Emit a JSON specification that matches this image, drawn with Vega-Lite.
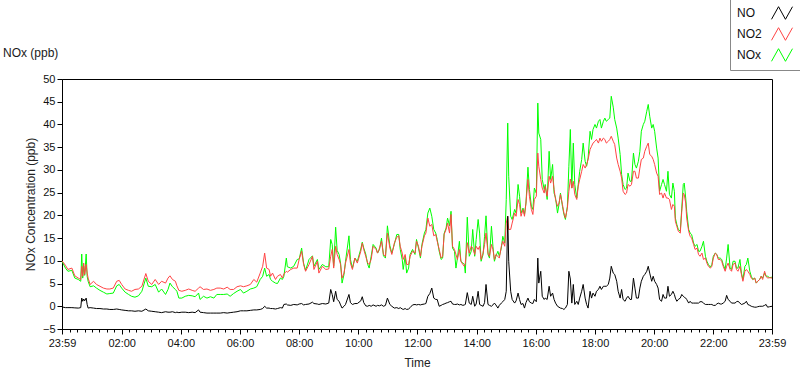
{
"$schema": "https://vega.github.io/schema/vega-lite/v6.json",
"width": 710, "height": 250,
"autosize": {"type": "none"},
"padding": {"left": 62, "top": 79, "right": 28, "bottom": 40},
"background": "white",
"title": {"text": "NOx (ppb)", "anchor": "start", "frame": "group", "dx": -59, "dy": 76, "offset": 12, "fontSize": 12, "fontWeight": "normal", "font": "Liberation Sans", "color": "#1a1a1a"},
"config": {"view": {"stroke": "black", "strokeWidth": 1}, "font": "Liberation Sans",
  "axis": {"labelFont": "Liberation Sans", "titleFont": "Liberation Sans", "labelColor": "#111", "titleColor": "#222", "domainColor": "black", "tickColor": "black", "grid": false, "labelFontSize": 11, "titleFontSize": 12, "titleFontWeight": "normal"}},
"data": {"values": [
{"t":0,"NO":-0.15,"NO2":10.0,"NOx":9.9},{"t":7,"NO":-0.3,"NO2":9.0,"NOx":8.4},{"t":12,"NO":-0.3,"NO2":8.1,"NOx":7.7},{"t":20,"NO":-0.3,"NO2":8.4,"NOx":7.9},{"t":26,"NO":-0.35,"NO2":6.7,"NOx":6.2},{"t":33,"NO":-0.4,"NO2":6.2,"NOx":5.9},{"t":38,"NO":-0.3,"NO2":5.9,"NOx":5.5},{"t":40,"NO":1.8,"NO2":8.8,"NOx":11.5},{"t":42,"NO":1.1,"NO2":6.6,"NOx":6.2},{"t":44,"NO":1.6,"NO2":9.5,"NOx":8.8},{"t":46,"NO":1.2,"NO2":7.0,"NOx":6.8},{"t":49,"NO":1.8,"NO2":9.2,"NOx":11.5},{"t":51,"NO":0.4,"NO2":7.3,"NOx":6.6},{"t":53,"NO":-0.4,"NO2":6.2,"NOx":5.5},{"t":57,"NO":-0.3,"NO2":4.8,"NOx":4.3},{"t":64,"NO":-0.4,"NO2":5.5,"NOx":4.5},{"t":70,"NO":-0.5,"NO2":4.8,"NOx":4.0},{"t":77,"NO":-0.5,"NO2":4.4,"NOx":3.5},{"t":84,"NO":-0.6,"NO2":4.0,"NOx":3.1},{"t":91,"NO":-0.6,"NO2":3.8,"NOx":2.7},{"t":97,"NO":-0.7,"NO2":3.8,"NOx":2.8},{"t":104,"NO":-0.7,"NO2":4.0,"NOx":2.9},{"t":111,"NO":-0.6,"NO2":5.5,"NOx":4.5},{"t":116,"NO":-0.7,"NO2":5.7,"NOx":4.8},{"t":121,"NO":-0.8,"NO2":4.8,"NOx":4.0},{"t":128,"NO":-0.9,"NO2":3.8,"NOx":3.1},{"t":135,"NO":-1.0,"NO2":3.5,"NOx":2.6},{"t":141,"NO":-1.0,"NO2":3.3,"NOx":2.2},{"t":148,"NO":-1.1,"NO2":3.7,"NOx":2.0},{"t":155,"NO":-1.0,"NO2":3.8,"NOx":2.3},{"t":162,"NO":-1.1,"NO2":4.4,"NOx":3.3},{"t":170,"NO":-0.6,"NO2":7.2,"NOx":6.2},{"t":175,"NO":-1.0,"NO2":5.5,"NOx":4.4},{"t":182,"NO":-1.1,"NO2":4.8,"NOx":4.3},{"t":189,"NO":-1.2,"NO2":5.9,"NOx":4.8},{"t":196,"NO":-1.3,"NO2":4.8,"NOx":3.1},{"t":202,"NO":-1.4,"NO2":5.5,"NOx":3.8},{"t":210,"NO":-1.2,"NO2":5.1,"NOx":2.6},{"t":215,"NO":-1.3,"NO2":6.2,"NOx":3.7},{"t":219,"NO":-1.3,"NO2":6.7,"NOx":5.1},{"t":224,"NO":-1.2,"NO2":5.9,"NOx":4.3},{"t":230,"NO":-1.4,"NO2":5.5,"NOx":3.7},{"t":233,"NO":-1.3,"NO2":4.5,"NOx":3.3},{"t":237,"NO":-1.4,"NO2":3.5,"NOx":1.8},{"t":243,"NO":-1.3,"NO2":3.3,"NOx":1.8},{"t":250,"NO":-1.3,"NO2":3.5,"NOx":2.2},{"t":257,"NO":-1.4,"NO2":3.8,"NOx":2.4},{"t":264,"NO":-1.3,"NO2":3.5,"NOx":2.3},{"t":270,"NO":-1.4,"NO2":3.3,"NOx":2.1},{"t":277,"NO":-0.8,"NO2":4.0,"NOx":2.9},{"t":280,"NO":-1.3,"NO2":4.3,"NOx":1.5},{"t":287,"NO":-1.4,"NO2":3.7,"NOx":2.2},{"t":294,"NO":-1.5,"NO2":3.8,"NOx":1.8},{"t":301,"NO":-1.5,"NO2":3.5,"NOx":2.1},{"t":308,"NO":-1.5,"NO2":3.7,"NOx":1.8},{"t":314,"NO":-1.5,"NO2":4.0,"NOx":2.6},{"t":321,"NO":-1.5,"NO2":4.0,"NOx":2.6},{"t":328,"NO":-1.4,"NO2":3.8,"NOx":2.6},{"t":335,"NO":-1.5,"NO2":4.2,"NOx":2.7},{"t":341,"NO":-1.4,"NO2":3.7,"NOx":2.2},{"t":348,"NO":-1.3,"NO2":3.7,"NOx":2.8},{"t":355,"NO":-1.2,"NO2":4.3,"NOx":3.3},{"t":362,"NO":-1.0,"NO2":4.5,"NOx":3.7},{"t":368,"NO":-1.0,"NO2":4.3,"NOx":2.9},{"t":375,"NO":-1.0,"NO2":4.5,"NOx":3.3},{"t":382,"NO":-0.9,"NO2":4.8,"NOx":3.8},{"t":389,"NO":-0.8,"NO2":5.9,"NOx":4.0},{"t":395,"NO":-0.8,"NO2":5.3,"NOx":4.3},{"t":402,"NO":-0.7,"NO2":7.3,"NOx":5.9},{"t":407,"NO":-0.5,"NO2":8.8,"NOx":6.6},{"t":411,"NO":0.0,"NO2":11.7,"NOx":8.4},
{"t":415,"NO":-0.4,"NO2":8.4,"NOx":6.6},{"t":420,"NO":-0.4,"NO2":8.1,"NOx":7.0},{"t":423,"NO":-0.5,"NO2":6.6,"NOx":5.9},{"t":427,"NO":-0.5,"NO2":7.3,"NOx":5.5},{"t":433,"NO":-0.6,"NO2":5.9,"NOx":5.1},{"t":437,"NO":-0.5,"NO2":6.6,"NOx":5.0},{"t":443,"NO":-0.3,"NO2":7.0,"NOx":6.2},{"t":447,"NO":-0.4,"NO2":6.2,"NOx":5.9},{"t":450,"NO":0.4,"NO2":7.1,"NOx":6.6},{"t":455,"NO":0.5,"NO2":7.7,"NOx":10.6},{"t":457,"NO":0.3,"NO2":7.5,"NOx":8.7},{"t":464,"NO":0.2,"NO2":8.1,"NOx":8.4},{"t":470,"NO":0.4,"NO2":8.4,"NOx":8.8},{"t":477,"NO":0.3,"NO2":8.4,"NOx":10.3},{"t":481,"NO":0.5,"NO2":10.3,"NOx":10.4},{"t":486,"NO":0.6,"NO2":12.1,"NOx":12.8},{"t":490,"NO":0.3,"NO2":9.2,"NOx":9.5},{"t":494,"NO":0.4,"NO2":7.7,"NOx":7.9},{"t":501,"NO":0.5,"NO2":9.2,"NOx":10.3},{"t":508,"NO":0.9,"NO2":11.0,"NOx":11.1},{"t":511,"NO":0.6,"NO2":8.1,"NOx":8.8},{"t":518,"NO":0.5,"NO2":9.9,"NOx":10.3},{"t":521,"NO":0.4,"NO2":7.3,"NOx":8.1},{"t":528,"NO":0.6,"NO2":8.8,"NOx":9.2},{"t":535,"NO":0.5,"NO2":8.1,"NOx":8.7},{"t":541,"NO":0.7,"NO2":8.2,"NOx":8.7},{"t":545,"NO":3.7,"NO2":11.0,"NOx":14.7},{"t":548,"NO":2.6,"NO2":12.5,"NOx":13.6},{"t":551,"NO":1.0,"NO2":8.4,"NOx":8.8},{"t":555,"NO":3.3,"NO2":13.2,"NOx":17.4},{"t":558,"NO":1.5,"NO2":11.4,"NOx":12.3},{"t":562,"NO":1.1,"NO2":10.3,"NOx":11.4},{"t":565,"NO":0.3,"NO2":9.2,"NOx":9.5},{"t":568,"NO":-0.4,"NO2":6.2,"NOx":5.1},{"t":572,"NO":0.0,"NO2":7.3,"NOx":7.0},{"t":575,"NO":0.4,"NO2":9.5,"NOx":9.9},{"t":582,"NO":2.6,"NO2":12.5,"NOx":15.5},{"t":585,"NO":0.8,"NO2":9.5,"NOx":10.3},{"t":589,"NO":0.4,"NO2":8.1,"NOx":8.4},{"t":594,"NO":0.6,"NO2":10.6,"NOx":10.6},{"t":599,"NO":0.6,"NO2":9.5,"NOx":9.9},{"t":606,"NO":1.2,"NO2":12.1,"NOx":12.6},{"t":609,"NO":2.1,"NO2":13.9,"NOx":14.1},{"t":612,"NO":0.8,"NO2":12.5,"NOx":12.8},{"t":616,"NO":0.1,"NO2":11.0,"NOx":11.5},
{"t":620,"NO":0.0,"NO2":9.5,"NOx":9.2},{"t":623,"NO":0.2,"NO2":9.2,"NOx":8.4},{"t":627,"NO":0.0,"NO2":10.3,"NOx":11.0},{"t":631,"NO":0.3,"NO2":13.2,"NOx":13.6},{"t":637,"NO":0.0,"NO2":12.5,"NOx":12.8},{"t":640,"NO":0.2,"NO2":11.7,"NOx":11.7},{"t":644,"NO":0.1,"NO2":12.8,"NOx":12.5},{"t":648,"NO":0.3,"NO2":14.3,"NOx":15.0},{"t":652,"NO":0.0,"NO2":11.4,"NOx":11.1},{"t":656,"NO":0.2,"NO2":11.0,"NOx":10.6},{"t":660,"NO":1.8,"NO2":16.1,"NOx":17.7},{"t":665,"NO":0.4,"NO2":12.8,"NOx":13.3},{"t":669,"NO":0.0,"NO2":11.4,"NOx":11.7},{"t":674,"NO":-0.4,"NO2":13.9,"NOx":13.6},{"t":679,"NO":-0.3,"NO2":15.2,"NOx":15.8},{"t":683,"NO":-0.5,"NO2":15.5,"NOx":15.8},{"t":686,"NO":-0.3,"NO2":13.2,"NOx":12.5},{"t":690,"NO":-0.6,"NO2":11.7,"NOx":10.3},{"t":692,"NO":-0.7,"NO2":10.3,"NOx":8.1},{"t":696,"NO":-0.5,"NO2":11.4,"NOx":11.0},{"t":699,"NO":-0.7,"NO2":9.2,"NOx":7.3},{"t":703,"NO":-0.6,"NO2":9.2,"NOx":8.4},{"t":706,"NO":-0.3,"NO2":11.0,"NOx":11.4},{"t":711,"NO":0.3,"NO2":12.1,"NOx":12.5},{"t":716,"NO":0.4,"NO2":11.7,"NOx":11.4},{"t":719,"NO":0.3,"NO2":14.3,"NOx":14.7},{"t":723,"NO":0.4,"NO2":13.2,"NOx":12.8},{"t":727,"NO":0.3,"NO2":11.0,"NOx":10.6},{"t":730,"NO":0.4,"NO2":13.2,"NOx":13.6},{"t":735,"NO":0.5,"NO2":15.5,"NOx":16.1},{"t":738,"NO":0.6,"NO2":16.1,"NOx":16.9},{"t":742,"NO":2.2,"NO2":19.4,"NOx":20.5},{"t":746,"NO":2.8,"NO2":17.6,"NOx":21.6},{"t":750,"NO":4.0,"NO2":18.0,"NOx":19.8},{"t":754,"NO":1.8,"NO2":15.5,"NOx":16.9},{"t":758,"NO":1.5,"NO2":15.8,"NOx":16.1},{"t":761,"NO":1.5,"NO2":14.3,"NOx":14.7},{"t":765,"NO":0.0,"NO2":12.5,"NOx":12.1},{"t":769,"NO":0.2,"NO2":10.6,"NOx":10.3},{"t":772,"NO":0.4,"NO2":11.0,"NOx":10.6},{"t":775,"NO":0.5,"NO2":15.8,"NOx":16.0},{"t":779,"NO":0.7,"NO2":16.9,"NOx":17.2},{"t":782,"NO":0.8,"NO2":18.3,"NOx":19.4},{"t":786,"NO":1.0,"NO2":16.1,"NOx":17.7},{"t":789,"NO":1.1,"NO2":20.2,"NOx":20.9},{"t":792,"NO":0.5,"NO2":13.2,"NOx":12.8},{"t":796,"NO":0.4,"NO2":12.5,"NOx":12.1},{"t":799,"NO":0.4,"NO2":11.4,"NOx":8.4},{"t":802,"NO":0.5,"NO2":10.3,"NOx":10.6},{"t":806,"NO":0.3,"NO2":12.5,"NOx":14.3},{"t":809,"NO":0.4,"NO2":9.9,"NOx":9.9},{"t":813,"NO":0.2,"NO2":9.2,"NOx":9.5},{"t":816,"NO":0.3,"NO2":8.8,"NOx":9.2},{"t":818,"NO":0.4,"NO2":9.5,"NOx":7.3},{"t":822,"NO":3.0,"NO2":14.0,"NOx":19.6},
{"t":826,"NO":0.7,"NO2":11.7,"NOx":11.0},{"t":830,"NO":0.4,"NO2":13.2,"NOx":12.1},{"t":833,"NO":2.2,"NO2":12.8,"NOx":16.9},{"t":837,"NO":0.0,"NO2":11.4,"NOx":11.0},{"t":840,"NO":0.5,"NO2":13.2,"NOx":14.7},{"t":844,"NO":3.3,"NO2":12.5,"NOx":19.1},{"t":847,"NO":0.4,"NO2":13.2,"NOx":16.1},{"t":850,"NO":0.2,"NO2":10.3,"NOx":9.9},{"t":854,"NO":0.0,"NO2":11.7,"NOx":11.4},{"t":857,"NO":0.8,"NO2":13.6,"NOx":15.4},{"t":860,"NO":4.8,"NO2":16.1,"NOx":19.9},{"t":864,"NO":0.4,"NO2":11.7,"NOx":11.4},{"t":867,"NO":0.2,"NO2":11.0,"NOx":10.6},{"t":871,"NO":0.0,"NO2":13.6,"NOx":17.6},{"t":874,"NO":0.3,"NO2":12.5,"NOx":13.2},{"t":877,"NO":0.7,"NO2":10.3,"NOx":9.9},{"t":880,"NO":0.3,"NO2":11.4,"NOx":11.0},{"t":884,"NO":-0.4,"NO2":11.0,"NOx":12.1},{"t":887,"NO":0.2,"NO2":10.6,"NOx":11.0},{"t":891,"NO":0.7,"NO2":13.2,"NOx":12.8},{"t":894,"NO":1.0,"NO2":14.3,"NOx":15.4},{"t":898,"NO":1.5,"NO2":13.2,"NOx":13.9},{"t":901,"NO":3.3,"NO2":18.3,"NOx":23.5},{"t":904,"NO":19.8,"NO2":19.8,"NOx":40.3},{"t":906,"NO":9.9,"NO2":16.9,"NOx":28.6},{"t":910,"NO":3.3,"NO2":16.9,"NOx":19.8},{"t":913,"NO":1.5,"NO2":18.3,"NOx":19.1},{"t":918,"NO":0.7,"NO2":20.5,"NOx":21.3},{"t":921,"NO":1.2,"NO2":19.8,"NOx":20.5},{"t":925,"NO":2.9,"NO2":23.5,"NOx":26.8},{"t":928,"NO":1.5,"NO2":22.4,"NOx":24.2},{"t":931,"NO":0.4,"NO2":19.8,"NOx":20.5},{"t":935,"NO":0.6,"NO2":21.3,"NOx":21.6},{"t":938,"NO":-0.4,"NO2":19.8,"NOx":20.2},{"t":941,"NO":0.8,"NO2":22.7,"NOx":22.7},{"t":945,"NO":1.8,"NO2":27.9,"NOx":30.6},{"t":948,"NO":1.0,"NO2":24.2,"NOx":25.7},{"t":952,"NO":0.7,"NO2":21.3,"NOx":22.0},{"t":955,"NO":0.6,"NO2":20.2,"NOx":21.3},{"t":958,"NO":1.5,"NO2":23.5,"NOx":26.0},{"t":962,"NO":1.0,"NO2":24.2,"NOx":24.9},{"t":965,"NO":10.6,"NO2":33.7,"NOx":44.7},{"t":967,"NO":5.1,"NO2":30.8,"NOx":38.1},{"t":971,"NO":7.7,"NO2":27.9,"NOx":36.7},{"t":974,"NO":2.2,"NO2":26.0,"NOx":27.9},{"t":978,"NO":1.5,"NO2":24.9,"NOx":25.7},{"t":980,"NO":1.8,"NO2":26.4,"NOx":26.8},{"t":984,"NO":1.5,"NO2":24.2,"NOx":23.5},{"t":988,"NO":4.4,"NO2":28.6,"NOx":34.1},{"t":991,"NO":2.2,"NO2":27.1,"NOx":27.9},{"t":995,"NO":2.9,"NO2":28.6,"NOx":31.2},{"t":998,"NO":1.5,"NO2":25.7,"NOx":24.9},{"t":1001,"NO":0.7,"NO2":23.5,"NOx":23.8},{"t":1005,"NO":0.0,"NO2":22.0,"NOx":20.5},{"t":1008,"NO":-0.2,"NO2":22.7,"NOx":22.4},{"t":1011,"NO":-0.4,"NO2":24.6,"NOx":24.9},{"t":1015,"NO":-0.5,"NO2":22.4,"NOx":22.0},{"t":1018,"NO":-0.7,"NO2":20.5,"NOx":20.2},{"t":1021,"NO":-0.4,"NO2":19.4,"NOx":19.1},{"t":1025,"NO":0.4,"NO2":21.6,"NOx":22.0},{"t":1028,"NO":7.7,"NO2":25.3,"NOx":30.8},{"t":1031,"NO":6.0,"NO2":28.0,"NOx":38.9},{"t":1034,"NO":0.7,"NO2":26.0,"NOx":26.0},
{"t":1037,"NO":4.8,"NO2":27.5,"NOx":35.9},{"t":1040,"NO":0.4,"NO2":24.6,"NOx":26.8},{"t":1044,"NO":1.1,"NO2":23.5,"NOx":23.8},{"t":1047,"NO":0.4,"NO2":26.4,"NOx":26.8},{"t":1050,"NO":1.8,"NO2":27.9,"NOx":29.7},{"t":1054,"NO":3.3,"NO2":29.7,"NOx":32.3},{"t":1057,"NO":4.8,"NO2":31.2,"NOx":35.9},{"t":1061,"NO":1.8,"NO2":30.4,"NOx":31.9},{"t":1064,"NO":0.4,"NO2":31.2,"NOx":30.8},{"t":1067,"NO":-0.4,"NO2":32.3,"NOx":32.6},{"t":1071,"NO":3.3,"NO2":34.5,"NOx":38.5},{"t":1074,"NO":1.8,"NO2":35.2,"NOx":36.7},{"t":1077,"NO":2.9,"NO2":35.9,"NOx":38.9},{"t":1081,"NO":2.2,"NO2":36.3,"NOx":40.0},{"t":1084,"NO":3.3,"NO2":36.7,"NOx":39.2},{"t":1088,"NO":3.7,"NO2":35.9,"NOx":40.7},{"t":1091,"NO":4.4,"NO2":37.0,"NOx":41.1},{"t":1094,"NO":3.7,"NO2":36.3,"NOx":39.2},{"t":1098,"NO":4.4,"NO2":37.0,"NOx":40.7},{"t":1101,"NO":4.4,"NO2":36.7,"NOx":41.4},{"t":1104,"NO":4.4,"NO2":35.9,"NOx":40.7},{"t":1108,"NO":4.8,"NO2":36.3,"NOx":41.1},{"t":1111,"NO":6.2,"NO2":36.7,"NOx":41.4},{"t":1114,"NO":8.8,"NO2":37.4,"NOx":46.2},{"t":1118,"NO":7.3,"NO2":36.3,"NOx":43.8},{"t":1121,"NO":7.0,"NO2":35.6,"NOx":41.1},{"t":1125,"NO":5.5,"NO2":32.6,"NOx":39.2},{"t":1128,"NO":3.3,"NO2":31.2,"NOx":37.0},{"t":1132,"NO":1.8,"NO2":29.7,"NOx":33.4},{"t":1135,"NO":3.7,"NO2":28.2,"NOx":29.0},{"t":1138,"NO":1.5,"NO2":25.3,"NOx":26.8},{"t":1142,"NO":1.1,"NO2":24.6,"NOx":25.7},{"t":1145,"NO":1.8,"NO2":24.9,"NOx":26.0},{"t":1148,"NO":2.2,"NO2":26.8,"NOx":29.3},{"t":1152,"NO":1.5,"NO2":26.4,"NOx":27.5},{"t":1155,"NO":1.5,"NO2":26.8,"NOx":27.5},{"t":1159,"NO":6.2,"NO2":29.7,"NOx":33.7},{"t":1162,"NO":4.0,"NO2":29.7,"NOx":31.2},{"t":1165,"NO":1.8,"NO2":28.2,"NOx":30.4},{"t":1169,"NO":1.8,"NO2":28.2,"NOx":31.9},{"t":1172,"NO":4.0,"NO2":30.4,"NOx":34.1},{"t":1175,"NO":5.5,"NO2":32.3,"NOx":38.5},{"t":1179,"NO":6.6,"NO2":32.6,"NOx":40.0},{"t":1182,"NO":7.0,"NO2":34.1,"NOx":40.7},{"t":1186,"NO":7.7,"NO2":35.2,"NOx":42.9},{"t":1189,"NO":8.8,"NO2":35.9,"NOx":44.4},{"t":1192,"NO":7.3,"NO2":33.4,"NOx":41.8},{"t":1196,"NO":5.5,"NO2":33.0,"NOx":39.2},{"t":1199,"NO":6.6,"NO2":32.3,"NOx":40.0},{"t":1202,"NO":5.5,"NO2":31.2,"NOx":38.5},{"t":1206,"NO":4.8,"NO2":29.3,"NOx":34.8},{"t":1209,"NO":4.0,"NO2":28.6,"NOx":32.6},{"t":1212,"NO":1.5,"NO2":24.6,"NOx":25.3},{"t":1216,"NO":1.1,"NO2":24.9,"NOx":26.8},{"t":1219,"NO":2.6,"NO2":23.8,"NOx":27.9},{"t":1222,"NO":1.8,"NO2":24.9,"NOx":26.8},{"t":1226,"NO":1.8,"NO2":23.8,"NOx":25.3},{"t":1229,"NO":4.4,"NO2":23.8,"NOx":29.7},{"t":1232,"NO":2.2,"NO2":23.5,"NOx":24.6},{"t":1236,"NO":2.6,"NO2":21.3,"NOx":23.8},{"t":1239,"NO":3.3,"NO2":22.4,"NOx":27.1},{"t":1242,"NO":2.6,"NO2":22.0,"NOx":25.3},
{"t":1244,"NO":1.8,"NO2":18.7,"NOx":19.4},{"t":1247,"NO":1.1,"NO2":17.6,"NOx":18.0},{"t":1250,"NO":1.5,"NO2":16.5,"NOx":16.9},{"t":1254,"NO":1.8,"NO2":16.1,"NOx":16.5},{"t":1257,"NO":2.6,"NO2":20.9,"NOx":21.6},{"t":1260,"NO":2.2,"NO2":24.9,"NOx":26.8},{"t":1262,"NO":2.0,"NO2":24.6,"NOx":27.1},{"t":1265,"NO":1.8,"NO2":22.7,"NOx":23.8},{"t":1267,"NO":1.5,"NO2":19.4,"NOx":20.9},{"t":1271,"NO":0.7,"NO2":16.5,"NOx":16.9},{"t":1274,"NO":1.1,"NO2":15.4,"NOx":16.1},{"t":1277,"NO":0.7,"NO2":15.0,"NOx":15.8},{"t":1281,"NO":0.7,"NO2":13.6,"NOx":13.9},{"t":1284,"NO":0.7,"NO2":12.5,"NOx":13.2},{"t":1288,"NO":0.7,"NO2":12.8,"NOx":13.6},{"t":1291,"NO":0.7,"NO2":11.4,"NOx":12.1},{"t":1294,"NO":1.0,"NO2":11.0,"NOx":12.1},{"t":1298,"NO":1.0,"NO2":11.7,"NOx":13.2},{"t":1301,"NO":0.7,"NO2":10.3,"NOx":14.3},{"t":1305,"NO":0.4,"NO2":10.6,"NOx":11.0},{"t":1308,"NO":0.4,"NO2":9.5,"NOx":9.9},{"t":1311,"NO":0.4,"NO2":8.8,"NOx":9.2},{"t":1315,"NO":0.4,"NO2":8.4,"NOx":8.6},{"t":1318,"NO":0.4,"NO2":8.8,"NOx":9.2},{"t":1321,"NO":0.2,"NO2":10.6,"NOx":11.0},{"t":1325,"NO":0.2,"NO2":11.7,"NOx":11.7},{"t":1328,"NO":0.5,"NO2":11.4,"NOx":11.4},{"t":1331,"NO":0.7,"NO2":10.3,"NOx":10.6},{"t":1335,"NO":0.5,"NO2":10.3,"NOx":10.6},{"t":1338,"NO":0.5,"NO2":9.9,"NOx":10.3},{"t":1341,"NO":0.7,"NO2":8.8,"NOx":9.2},{"t":1345,"NO":1.1,"NO2":7.7,"NOx":8.1},{"t":1348,"NO":2.4,"NO2":8.8,"NOx":10.6},{"t":1351,"NO":1.5,"NO2":9.5,"NOx":13.6},{"t":1355,"NO":1.1,"NO2":8.1,"NOx":8.4},{"t":1358,"NO":0.7,"NO2":7.7,"NOx":8.1},{"t":1361,"NO":0.7,"NO2":9.2,"NOx":9.9},{"t":1365,"NO":0.7,"NO2":9.5,"NOx":9.9},{"t":1368,"NO":1.0,"NO2":8.1,"NOx":8.4},{"t":1371,"NO":1.1,"NO2":7.7,"NOx":8.4},{"t":1375,"NO":0.7,"NO2":8.8,"NOx":10.3},{"t":1378,"NO":0.4,"NO2":7.0,"NOx":7.3},{"t":1381,"NO":0.5,"NO2":5.5,"NOx":5.9},{"t":1385,"NO":0.7,"NO2":7.7,"NOx":8.8},{"t":1388,"NO":1.1,"NO2":8.1,"NOx":9.2},{"t":1391,"NO":0.4,"NO2":7.7,"NOx":10.6},{"t":1395,"NO":0.2,"NO2":7.0,"NOx":7.7},{"t":1398,"NO":0.0,"NO2":6.2,"NOx":6.6},{"t":1401,"NO":-0.1,"NO2":5.9,"NOx":5.9},{"t":1405,"NO":-0.2,"NO2":6.2,"NOx":6.2},{"t":1408,"NO":-0.2,"NO2":5.1,"NOx":5.1},{"t":1411,"NO":-0.1,"NO2":5.5,"NOx":5.5},{"t":1415,"NO":0.0,"NO2":5.9,"NOx":5.9},{"t":1418,"NO":0.0,"NO2":6.6,"NOx":6.6},{"t":1421,"NO":0.0,"NO2":5.9,"NOx":6.2},{"t":1425,"NO":0.2,"NO2":7.7,"NOx":7.3},{"t":1428,"NO":0.4,"NO2":6.6,"NOx":6.6},{"t":1431,"NO":-0.2,"NO2":6.2,"NOx":6.6},{"t":1435,"NO":-0.1,"NO2":6.3,"NOx":6.3},{"t":1440,"NO":0.0,"NO2":6.2,"NOx":6.4}
]},
"transform": [{"fold": ["NOx", "NO2", "NO"], "as": ["series", "value"]}],
"encoding": {
  "x": {"field": "t", "type": "quantitative", "title": "Time",
    "scale": {"domain": [0, 1440], "nice": false, "zero": false},
    "axis": {"values": [0,16,31,46,61,76,91,106,121,136,151,166,181,196,211,226,241,256,271,286,301,316,331,346,361,376,391,406,421,436,451,466,481,496,511,526,541,556,571,586,601,616,631,646,661,676,691,706,721,736,751,766,781,796,811,826,841,856,871,886,901,916,931,946,961,976,991,1006,1021,1036,1051,1066,1081,1096,1111,1126,1141,1156,1171,1186,1201,1216,1231,1246,1261,1276,1291,1306,1321,1336,1351,1366,1381,1396,1411,1426,1440],
      "labelExpr": "datum.value == 0 || datum.value == 1440 ? '23:59' : ((datum.value - 1) % 120 == 0 ? (((datum.value - 1) / 60) < 10 ? '0' : '') + ((datum.value - 1) / 60) + ':00' : '')",
      "tickSize": {"condition": {"test": "datum.value == 0 || datum.value == 1440 || (datum.value - 1) % 120 == 0", "value": 5}, "value": 3},
      "labelPadding": 3, "labelOverlap": false, "labelBound": false, "labelFlush": false, "titlePadding": 9}},
  "y": {"field": "value", "type": "quantitative", "title": "NOx Concentration (ppb)",
    "scale": {"domain": [-5, 50], "nice": false, "zero": false},
    "axis": {"values": [-5,0,5,10,15,20,25,30,35,40,45,50], "tickSize": 5, "labelPadding": 2, "titlePadding": 5, "labelOverlap": false, "labelBound": false, "labelFlush": false}},
  "color": {"field": "series", "type": "nominal",
    "scale": {"domain": ["NO", "NO2", "NOx"], "range": ["#000000", "#ff4444", "#00ff00"]},
    "legend": {"title": null, "orient": "none", "legendX": 668, "legendY": -83, "direction": "vertical",
      "symbolType": "M-1,0.6L-0.33,-0.6L0.33,0.6L1,-0.6", "symbolSize": 441, "symbolStrokeWidth": 1,
      "symbolOffset": 35, "labelOffset": -56,
      "labelFontSize": 12, "labelFont": "Liberation Sans", "labelColor": "#111",
      "padding": 6, "strokeColor": "#888", "fillColor": "white", "rowPadding": 1}}
},
"layer": [
  {"transform": [{"filter": "datum.series == 'NOx'"}], "mark": {"type": "line", "strokeWidth": 1}},
  {"transform": [{"filter": "datum.series == 'NO2'"}], "mark": {"type": "line", "strokeWidth": 1}},
  {"transform": [{"filter": "datum.series == 'NO'"}], "mark": {"type": "line", "strokeWidth": 1}}
]
}
